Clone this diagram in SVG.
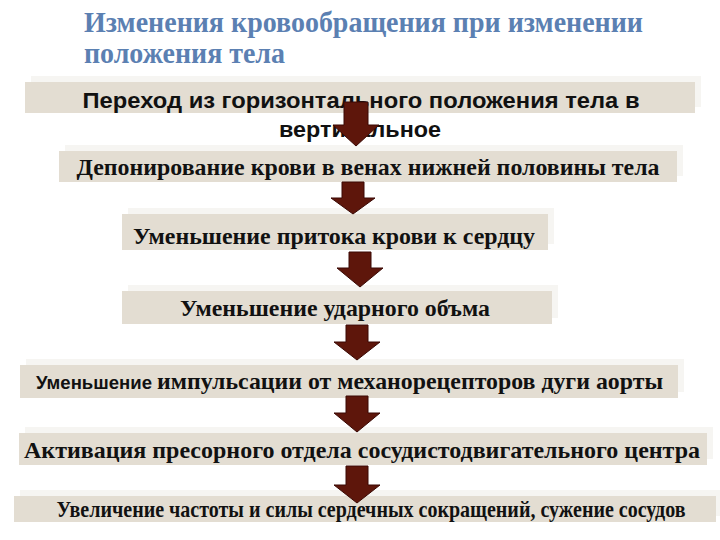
<svg xmlns="http://www.w3.org/2000/svg" width="720" height="540" viewBox="0 0 720 540">
<style>
.title{font-family:"Liberation Serif","Times New Roman",serif;font-weight:bold;font-size:29px;fill:#5B80B2}
.box{fill:#E3DDD2}
.halo{fill:#F6F5F2}
.t{font-family:"Liberation Serif","Times New Roman",serif;font-weight:bold;font-size:24px;fill:#111}
.s{font-family:"Liberation Sans",Arial,sans-serif;font-weight:bold;font-size:22px;fill:#111}
.arrow{fill:#5E160B;stroke:#3A0904;stroke-width:1}
</style>
<rect width="720" height="540" fill="#fff"/>
<g id="title">
<text class="title" x="84" y="32" textLength="559" lengthAdjust="spacingAndGlyphs">Изменения кровообращения при изменении</text>
<text class="title" x="84" y="63" textLength="201" lengthAdjust="spacingAndGlyphs">положения тела</text>
</g>
<g id="n1">
<rect class="halo" x="31" y="76" width="670" height="31"/>
<rect class="box" x="25" y="82" width="670" height="31"/>
<text class="s" x="361" y="108" text-anchor="middle" textLength="557" lengthAdjust="spacingAndGlyphs">Переход из горизонтального положения тела в</text>
<text class="s" x="360" y="137" text-anchor="middle" textLength="162" lengthAdjust="spacingAndGlyphs">вертикальное</text>
</g>
<g id="n2">
<rect class="halo" x="65" y="145" width="618" height="31"/>
<rect class="box" x="59" y="151" width="618" height="31"/>
<text class="t" x="368" y="175" text-anchor="middle" textLength="583" lengthAdjust="spacingAndGlyphs">Депонирование крови в венах нижней половины тела</text>
</g>
<g id="n3">
<rect class="halo" x="128" y="208" width="426" height="36"/>
<rect class="box" x="122" y="214" width="426" height="36"/>
<text class="t" x="334" y="244" text-anchor="middle" textLength="402" lengthAdjust="spacingAndGlyphs">Уменьшение притока крови к сердцу</text>
</g>
<g id="n4">
<rect class="halo" x="128" y="285" width="430" height="33"/>
<rect class="box" x="122" y="291" width="430" height="33"/>
<text class="t" x="335" y="316" text-anchor="middle" textLength="310" lengthAdjust="spacingAndGlyphs">Уменьшение ударного объма</text>
</g>
<g id="n5">
<rect class="halo" x="26" y="359" width="658" height="33"/>
<rect class="box" x="20" y="365" width="658" height="33"/>
<text x="36" y="389" font-family="'Liberation Sans Narrow','Liberation Sans',Arial,sans-serif" font-weight="bold" font-size="18" fill="#111" textLength="116" lengthAdjust="spacingAndGlyphs">Уменьшение</text>
<text class="t" x="157" y="389" textLength="506" lengthAdjust="spacingAndGlyphs">импульсации от механорецепторов дуги аорты</text>
</g>
<g id="n6">
<rect class="halo" x="25" y="427" width="688" height="32"/>
<rect class="box" x="19" y="433" width="688" height="32"/>
<text class="t" x="362" y="458" text-anchor="middle" textLength="676" lengthAdjust="spacingAndGlyphs">Активация пресорного отдела сосудистодвигательного центра</text>
</g>
<g id="n7">
<rect class="halo" x="20" y="490" width="700" height="26"/>
<rect class="box" x="14" y="496" width="702" height="26"/>
<text class="t" x="371" y="517" text-anchor="middle" font-size="20" textLength="629" lengthAdjust="spacingAndGlyphs">Увеличение частоты и силы сердечных сокращений, сужение сосудов</text>
</g>
<g id="connectors">
<path class="arrow" d="M344,102 L368,102 L368,125 L379,125 L356,146 L333,125 L344,125 Z"/>
<path class="arrow" d="M342,182 L364,182 L364,198 L375,198 L353,214 L331,198 L342,198 Z"/>
<path class="arrow" d="M349,252 L371,252 L371,268 L383,268 L360,287 L337,268 L349,268 Z"/>
<path class="arrow" d="M346,325 L368,325 L368,342 L380,342 L357,360 L334,342 L346,342 Z"/>
<path class="arrow" d="M346,396 L368,396 L368,413 L380,413 L357,432 L334,413 L346,413 Z"/>
<path class="arrow" d="M346,466 L368,466 L368,485 L380,485 L357,503 L334,485 L346,485 Z"/>
</g>
</svg>
